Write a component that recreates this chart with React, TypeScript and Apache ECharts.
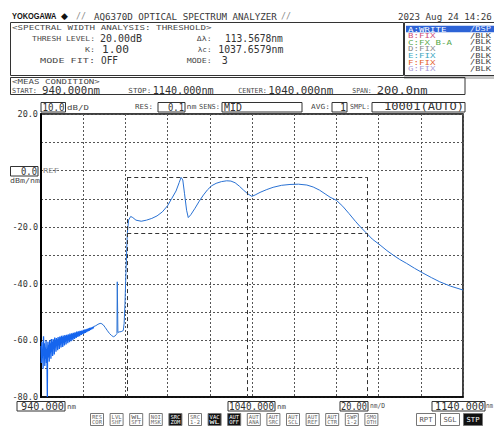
import React, { useEffect, useRef } from 'react';
import * as echarts from 'echarts';

const MONO = '"DejaVu Sans Mono", "Liberation Mono", monospace';

// ---- Trace data (wavelength nm / level dBm) ----
// noisy floor at the short-wavelength end
const noiseWl = [
  940.0, 940.2, 940.4, 940.6, 940.8, 941.0, 941.2, 941.4, 941.6, 941.8, 942.0, 942.2, 942.4, 942.6,
  942.8, 943.0, 943.1, 943.3, 943.5, 943.7, 943.9, 944.1, 944.3, 944.5, 944.7, 944.9, 945.1, 945.3,
  945.5, 945.7, 945.9, 946.1, 946.3, 946.5, 946.7, 946.9, 947.1, 947.3, 947.5, 947.7, 947.9, 948.1,
  948.3, 948.5, 948.7, 948.9, 949.1, 949.3, 949.5, 949.7, 949.9, 950.1, 950.3, 950.5, 950.7, 950.9,
  951.1, 951.3, 951.5, 951.7, 951.9, 952.1, 952.3, 952.5, 952.7, 952.9, 953.1, 953.3, 953.5, 953.7,
  953.9, 954.1, 954.3, 954.5, 954.7, 954.9, 955.1, 955.3, 955.5, 955.7, 955.9, 956.1, 956.3, 956.5,
  956.7, 956.9, 957.1, 957.3, 957.5, 957.7, 957.9, 958.1, 958.3, 958.5, 958.7, 958.9, 959.1, 959.3,
  959.5, 959.7, 959.9, 960.1, 960.4, 960.7, 961.0, 961.3, 961.6, 961.9, 962.2, 962.5, 962.8, 963.1,
  963.4, 963.7, 964.0, 964.3, 964.6, 965.0,
];
const noiseDb = [
  -62, -68, -60.5, -66, -63, -70, -58.5, -65, -61, -69, -62.5, -66.5, -60, -68,
  -63, -80, -64, -60.5, -66, -61.5, -67.5, -60, -64.5, -61, -66.5, -59.5, -64, -60.5,
  -65.5, -59.5, -63, -60, -65, -59, -62.5, -59.8, -64, -59.2, -62, -59.6, -63.5, -58.8,
  -61.8, -59.3, -63, -58.6, -61.5, -58.9, -62.5, -58.4, -61, -58.8, -62.3, -58.3, -60.8, -58.6,
  -61.8, -58.1, -60.5, -58.5, -61.4, -58, -60.2, -58.3, -61, -57.8, -60, -58.1, -60.6, -57.6,
  -59.7, -57.9, -60.3, -57.5, -59.4, -57.7, -59.9, -57.3, -59.2, -57.5, -59.5, -57.1, -58.9, -57.3,
  -59.1, -56.9, -58.6, -57.1, -58.8, -56.8, -58.3, -56.9, -58.5, -56.6, -58, -56.7, -58.1, -56.5,
  -57.7, -56.6, -57.8, -56.3, -57.5, -56.2, -57.3, -56.1, -57.1, -55.9, -56.8, -55.8, -56.6, -55.6,
  -56.3, -55.5, -56.1, -55.3, -55.8, -55.1,
];
// smooth part of the spectrum
const traceWl = [
  965, 966, 967, 968, 968.5, 969.5, 970.5, 971.5, 972.5, 973.5, 974.3, 975.0, 975.6, 976.0, 976.15,
  976.3, 976.45, 977, 978, 979, 979.4, 979.8, 980.3, 980.9, 981.5, 982.5, 983.5, 985, 987.5,
  990, 992.5, 995, 997.5, 1000, 1002, 1004, 1005.5, 1006.4, 1007.2, 1008, 1009, 1009.8, 1011,
  1013, 1015, 1017, 1019, 1021, 1023, 1025.5, 1028, 1030, 1032, 1034, 1036, 1038, 1039.9,
  1041.5, 1043.8, 1047, 1050, 1054, 1058, 1062, 1066, 1069, 1072, 1075, 1077, 1080, 1083,
  1086, 1089, 1091.5, 1094.4, 1097, 1100.7, 1104, 1107, 1110, 1113.3, 1117, 1121, 1125, 1129,
  1134, 1140,
];
const traceDb = [
  -55.1, -54.8, -54.3, -54.0, -54.0, -54.5, -55.5, -56.6, -57.6, -58.3, -58.7, -58.5, -58.0, -57.6, -39.3,
  -39.5, -57.2, -57.0, -56.9, -56.5, -54, -47, -35, -22.2, -17.5, -16.2, -16.6, -17.5, -17.9,
  -17.5, -16.9, -16.0, -14.6, -12.4, -9.8, -7.2, -4.2, -2.4, -3.3, -8, -14, -16.6, -15.6,
  -13.3, -10.8, -8.6, -6.7, -5.3, -4.5, -3.9, -3.6, -3.7, -4.3, -5.5, -6.9, -8.2, -9.1,
  -8.6, -7.7, -6.7, -5.9, -5.2, -4.9, -4.8, -5.1, -5.8, -6.9, -8.4, -9.4, -10.5, -12.6,
  -15.2, -17.9, -20.0, -22.2, -24.2, -26.3, -28.3, -29.9, -31.4, -32.8, -34.5, -36.2, -37.8, -39.3,
  -40.8, -42.2,
];

// Spectral width analysis (threshold) results
const peakLevel = -2.3;
const thresholdDb = 20;
const centerWl = 1037.6579;
const widthWl = 113.5678;

// Axes
const xMin = 940;
const xMax = 1140;
const xStep = 20;
const yMin = -80;
const yMax = 20;
const yStep = 10;
const yLabelValues = [20, -20, -40, -60, -80];

type TOpts = { w?: number; align?: string; fill?: string; weight?: string; family?: string; sx?: number };
function txt(x: number, y: number, text: string, size: number, o: TOpts = {}) {
  const family = o.family ?? MONO;
  const natural = text.length * 0.602 * size;
  const sx = o.sx ?? (o.w ? o.w / natural : 1);
  return {
    type: 'text', x, y, scaleX: sx, silent: true, z: 100,
    style: {
      text, fill: o.fill ?? '#333', font: `${o.weight ?? 'normal'} ${size}px ${family}`,
      align: o.align ?? 'left', verticalAlign: 'middle',
    },
  };
}
function box(x: number, y: number, w: number, h: number, stroke = '#333', fill = 'rgba(0,0,0,0)', lw = 1) {
  return { type: 'rect', silent: true, z: 90, shape: { x, y, width: w, height: h }, style: { fill, stroke, lineWidth: lw } };
}

function buildGraphics() {
  const g: any[] = [];
  const S = 7; // small wide label font
  const V = 10; // value font
  const L = '#4a4a4a';
  // header
  g.push(txt(12, 16, 'YOKOGAWA', 9.5, { family: '"Liberation Sans", Arial, sans-serif', weight: 'bold', sx: 0.78, fill: '#111' }));
  g.push(txt(61, 16, '◆', 9, { family: '"DejaVu Sans", sans-serif', sx: 1, fill: '#111' }));
  g.push(txt(76, 16, '//', 9.4, { fill: '#888', w: 10 }));
  g.push(txt(94, 16, 'AQ6370D OPTICAL SPECTRUM ANALYZER', 9.4, { w: 183, fill: '#3a3a3a' }));
  g.push(txt(281, 16, '//', 9.4, { fill: '#888', w: 10 }));
  g.push(txt(398, 16, '2023 Aug 24 14:26', 9.6, { w: 94, fill: '#3a3a3a' }));

  // analysis box
  g.push(box(10.5, 22.5, 393, 53));
  g.push(txt(12, 27.5, '<SPECTRAL WIDTH ANALYSIS: THRESHOLD>', S, { w: 200, fill: L }));
  g.push(txt(95, 38.5, 'THRESH LEVEL:', S, { w: 63, align: 'right', fill: L }));
  g.push(txt(100, 38.5, '20.00dB', V, { w: 42 }));
  g.push(txt(95, 49.5, 'K:', S, { w: 10, align: 'right', fill: L }));
  g.push(txt(102, 49.5, '1.00', V, { w: 27 }));
  g.push(txt(95, 60.5, 'MODE FIT:', S, { w: 55, align: 'right', fill: L }));
  g.push(txt(101, 60.5, 'OFF', V, { w: 17 }));
  g.push(txt(211.7, 38.5, 'Δλ:', S, { w: 15, align: 'right', fill: L }));
  g.push(txt(225, 38.5, `${widthWl.toFixed(4)}nm`, V, { w: 58 }));
  g.push(txt(211.7, 49.5, 'λc:', S, { w: 14, align: 'right', fill: L }));
  g.push(txt(218.3, 49.5, `${centerWl.toFixed(4)}nm`, V, { w: 65 }));
  g.push(txt(211.7, 60.5, 'MODE:', S, { w: 25, align: 'right', fill: L }));
  g.push(txt(221.7, 60.5, '3', V, { w: 6 }));

  // trace list box
  g.push(box(404.5, 22.5, 92, 53));
  g.push({ type: 'rect', silent: true, z: 95, shape: { x: 406, y: 25.8, width: 88, height: 6.4 }, style: { fill: '#2d63d6' } });
  const traces: [string, string, string, string][] = [
    ['A:WRITE', '/DSP', '#ffffff', '#e6eeff'],
    ['B:FIX', '/BLK', '#d0507a', '#444'],
    ['C:FX B-A', '/BLK', '#5aa84a', '#444'],
    ['D:FIX', '/BLK', '#8a8a8a', '#444'],
    ['E:FIX', '/BLK', '#3aa6bf', '#444'],
    ['F:FIX', '/BLK', '#e4602a', '#444'],
    ['G:FIX', '/BLK', '#a99ad6', '#444'],
  ];
  traces.forEach((t, i) => {
    const y = 29 + i * 6.6;
    g.push(txt(408, y, t[0], S, { w: t[0].length * 5.5, fill: t[2] }));
    g.push(txt(470, y, t[1], S, { w: 21, fill: t[3] }));
  });
  g.push({ type: 'rect', silent: true, z: 80, shape: { x: 404, y: 76, width: 90, height: 3 }, style: { fill: '#c4c4c4' } });

  // meas condition box
  g.push(box(10.5, 77.5, 454.5, 17));
  g.push(txt(12, 81.5, '<MEAS CONDITION>', S, { w: 88, fill: L }));
  g.push(txt(12, 90.5, 'START:', S, { w: 25, fill: L }));
  g.push(txt(42, 90.5, `${xMin.toFixed(3)}nm`, V, { w: 58 }));
  g.push(txt(128.3, 90.5, 'STOP:', S, { w: 23, fill: L }));
  g.push(txt(152.7, 90.5, `${xMax.toFixed(3)}nm`, V, { w: 61 }));
  g.push(txt(238.3, 90.5, 'CENTER:', S, { w: 28.5, fill: L }));
  g.push(txt(268.3, 90.5, `${((xMin + xMax) / 2).toFixed(3)}nm`, V, { w: 65 }));
  g.push(txt(352.3, 90.5, 'SPAN:', S, { w: 19.5, fill: L }));
  g.push(txt(376.7, 90.5, `${(xMax - xMin).toFixed(1)}nm`, V, { w: 51 }));

  // settings row
  const ry = 107;
  g.push(box(41, 102.5, 24.5, 9.5));
  g.push(txt(64.5, ry, `${yStep.toFixed(1)}`, V, { w: 22, align: 'right' }));
  g.push(txt(67, ry, 'dB/D', S, { w: 22, fill: L }));
  g.push(txt(135, ry, 'RES:', S, { w: 18, fill: L }));
  g.push(box(158, 102.5, 27, 9.5));
  g.push(txt(184, ry, '0.1', V, { w: 16, align: 'right' }));
  g.push(txt(186.5, ry, 'nm', S, { w: 10, fill: L }));
  g.push(txt(199, ry, 'SENS:', S, { w: 21, fill: L }));
  g.push(box(222, 102.5, 80, 9.5));
  g.push(txt(224, ry, 'MID', V, { w: 18 }));
  g.push(txt(311, ry, 'AVG:', S, { w: 19, fill: L }));
  g.push(box(332, 102.5, 15, 9.5));
  g.push(txt(346, ry, '1', V, { w: 6, align: 'right' }));
  g.push(txt(350, ry, 'SMPL:', S, { w: 20, fill: L }));
  g.push(box(372, 102.5, 93, 9.5));
  g.push(txt(464, ry, '10001(AUTO)', V, { w: 80, align: 'right' }));

  // REF box
  g.push(box(10.5, 166.5, 27.5, 9.5));
  g.push(txt(37, 171.3, '0.0', V, { w: 16, align: 'right' }));
  g.push(txt(43, 171.3, 'REF', S, { w: 16, fill: '#888' }));
  g.push(txt(10, 180.5, 'dBm/nm', S, { w: 30, fill: L }));

  // bottom wavelength labels
  const by = 406.3;
  g.push(box(17, 401.5, 48, 9.5));
  g.push(txt(64, by, xMin.toFixed(3), V, { w: 43, align: 'right' }));
  g.push(txt(67, by, 'nm', S, { w: 9, fill: L }));
  g.push(box(228, 401.5, 47, 9.5));
  g.push(txt(274, by, ((xMin + xMax) / 2).toFixed(3), V, { w: 45, align: 'right' }));
  g.push(txt(277, by, 'nm', S, { w: 9, fill: L }));
  g.push(box(340, 401.5, 28, 9.5));
  g.push(txt(367, by, xStep.toFixed(2), V, { w: 26, align: 'right' }));
  g.push(txt(370, by, 'nm/D', S, { w: 15, fill: L }));
  g.push(box(432, 401.5, 53, 9.5));
  g.push(txt(484, by, xMax.toFixed(3), V, { w: 49, align: 'right' }));
  g.push(txt(486, by, 'nm', S, { w: 7, fill: L }));

  // soft key buttons
  const buttons: [string, string, boolean][] = [
    ['RES', 'COR', false], ['LVL', 'SHF', false], ['WL', 'SFT', false], ['NOI', 'MSK', false],
    ['SRC', 'ZOM', true], ['SRC', '1-2', false], ['VAC', 'WL', true], ['AUT', 'OFF', true],
    ['AUT', 'ANA', false], ['AUT', 'SRC', false], ['AUT', 'SCL', false], ['AUT', 'REF', false],
    ['AUT', 'CTR', false], ['SWP', '1-2', false], ['SMO', 'OTH', false],
  ];
  buttons.forEach((b, i) => {
    const x = 90 + i * 19.6;
    g.push(box(x + 0.5, 413.5, 13, 12, '#777', b[2] ? '#111' : '#fff'));
    const f = b[2] ? '#fff' : '#666';
    g.push(txt(x + 7, 416.8, b[0], 5.5, { w: 10, align: 'center', fill: f }));
    g.push(txt(x + 7, 422.2, b[1], 5.5, { w: 10, align: 'center', fill: f }));
  });
  const keys: [string, number, boolean][] = [['RPT', 416, false], ['SGL', 440, false], ['STP', 463, true]];
  keys.forEach(k => {
    g.push(box(k[1] + 0.5, 413.5, 19, 12, '#777', k[2] ? '#111' : '#fff'));
    g.push(txt(k[1] + 10, 419.5, k[0], 7, { w: 13, align: 'center', fill: k[2] ? '#fff' : '#555' }));
  });
  return g;
}

export default function App() {
  const ref = useRef<HTMLDivElement>(null);
  useEffect(() => {
    document.body.style.margin = '0';
    if (!ref.current) return;
    const chart = echarts.init(ref.current, undefined, { renderer: 'svg' });
    const noise: [number, number][] = noiseWl.map((w, i) => [w, noiseDb[i]]);
    const trace: [number, number][] = traceWl.map((w, i) => [w, traceDb[i]]);
    const threshLevel = peakLevel - thresholdDb;
    const leftEdge = centerWl - widthWl / 2;
    const rightEdge = centerWl + widthWl / 2;
    chart.setOption({
      animation: false,
      backgroundColor: '#fff',
      grid: { left: 41, right: 31, top: 114, bottom: 30, show: true, borderColor: '#000', borderWidth: 1.5, backgroundColor: '#fff' },
      xAxis: {
        type: 'value', min: xMin, max: xMax, interval: xStep,
        axisLine: { show: true, onZero: false, lineStyle: { color: '#000', width: 1.5 } },
        axisTick: { show: false }, axisLabel: { show: false },
        splitLine: { show: true, lineStyle: { color: '#555', type: [2, 2], width: 1 } },
      },
      yAxis: {
        type: 'value', min: yMin, max: yMax, interval: yStep,
        axisLine: { show: true, onZero: false, lineStyle: { color: '#000', width: 2 } },
        axisTick: { show: false },
        axisLabel: {
          show: true, margin: 3, color: '#333', fontFamily: MONO, fontSize: 8.5,
          showMinLabel: true, showMaxLabel: true,
          formatter: (v: number) => (yLabelValues.includes(v) ? v.toFixed(1) : ''),
        },
        splitLine: { show: true, lineStyle: { color: '#555', type: [2, 2], width: 1 } },
      },
      series: [
        {
          type: 'line', data: noise, showSymbol: false, symbol: 'none', silent: true,
          lineStyle: { color: '#1565ee', width: 1.3 },
        },
        {
          type: 'line', data: trace, showSymbol: false, symbol: 'none', silent: true,
          lineStyle: { color: '#2a72d4', width: 1 },
          markLine: {
            silent: true, symbol: ['none', 'none'], label: { show: false },
            lineStyle: { color: '#333', type: [4, 3], width: 1 },
            emphasis: { disabled: true },
            data: [
              [{ coord: [leftEdge, peakLevel] }, { coord: [rightEdge, peakLevel] }],
              [{ coord: [leftEdge, threshLevel] }, { coord: [rightEdge, threshLevel] }],
              [{ coord: [leftEdge, peakLevel] }, { coord: [leftEdge, yMin] }],
              [{ coord: [centerWl, peakLevel] }, { coord: [centerWl, yMin] }],
              [{ coord: [rightEdge, peakLevel] }, { coord: [rightEdge, yMin] }],
            ],
          },
        },
      ],
      graphic: buildGraphics(),
    });
    return () => chart.dispose();
  }, []);
  return <div ref={ref} style={{ width: 494, height: 427 }} />;
}
